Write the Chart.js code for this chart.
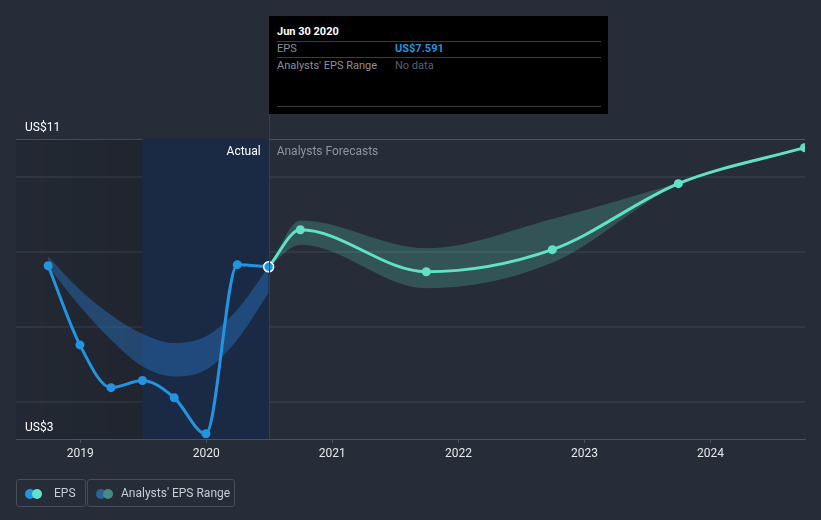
<!DOCTYPE html>
<html>
<head>
<meta charset="utf-8">
<script src="https://cdn.jsdelivr.net/npm/chart.js@4/dist/chart.umd.min.js"></script>
<style>
    body { margin: 0; background: #262c38; font-family: Roboto, "Noto Sans", sans-serif; }
    #wrap { position: relative; width: 821px; height: 520px; overflow: hidden; }
    #chart { position: absolute; left: 0; top: 0; }
    .tip { position: absolute; left: 269px; top: 16px; width: 339px; height: 98px; background: #000; font-size: 11px; }
    .tip .title { position: absolute; left: 8px; top: 9px; color: #fff; font-weight: bold; font-size: 11px; }
    .tip .rule { position: absolute; left: 8px; width: 324px; height: 1px; background: #3d3d3d; }
    .tip .lab { position: absolute; left: 8px; color: #8c9099; }
    .tip .val { position: absolute; left: 126px; }
    .legend { position: absolute; top: 479px; height: 28px; border: 1px solid #474d59; border-radius: 3px; box-sizing: border-box; color: #c9cdd4; font-size: 12px; line-height: 26px; }
    .dots { position: absolute; top: 9px; left: 8px; width: 20px; height: 10px; }
    .dots span { position: absolute; top: 0; width: 10px; height: 10px; border-radius: 50%; }
</style>
</head>
<body>
<div id="wrap">
    <canvas id="chart" width="821" height="520"></canvas>
    <div class="tip">
        <div class="title">Jun 30 2020</div>
        <div class="rule" style="top:25px"></div>
        <div class="lab" style="top:26px">EPS</div>
        <div class="val" style="top:26px;color:#2394df;font-weight:bold">US$7.591</div>
        <div class="rule" style="top:41px"></div>
        <div class="lab" style="top:43px">Analysts' EPS Range</div>
        <div class="val" style="top:43px;color:#5b6069">No data</div>
        <div class="rule" style="top:90px"></div>
    </div>
    <div class="legend" style="left:16px;width:70px">
        <div class="dots"><span style="left:0;background:#2394df"></span><span style="left:7px;background:#61e2c8"></span></div>
        <span style="position:absolute;left:37px">EPS</span>
    </div>
    <div class="legend" style="left:87px;width:148px">
        <div class="dots"><span style="left:0;background:#2a6395"></span><span style="left:7px;background:#468b86"></span></div>
        <span style="position:absolute;left:33px">Analysts' EPS Range</span>
    </div>
</div>
<script>
// reported EPS (quarterly, trailing)
const actualDates = ['2018-09-30', '2018-12-31', '2019-03-31', '2019-06-30', '2019-09-30', '2019-12-31', '2020-03-31', '2020-06-30'];
const actualEps = [7.62, 5.51, 4.37, 4.56, 4.10, 3.14, 7.65, 7.591];
// past analysts' range
const pastRangeHigh = [7.87, 6.98, 6.31, 5.81, 5.56, 5.74, 6.45, 7.60];
const pastRangeLow = [7.60, 6.54, 5.65, 4.94, 4.67, 4.85, 5.65, 6.90];

// analysts forecasts
const forecastDates = ['2020-06-30', '2020-09-30', '2021-09-30', '2022-09-30', '2023-09-30', '2024-09-30'];
const forecastEps = [7.591, 8.58, 7.46, 8.05, 9.81, 10.77];
const forecastHigh = [7.591, 8.83, 8.09, 8.87, 9.83, 10.78];
const forecastLow = [7.591, 8.18, 7.02, 7.70, 9.79, 10.76];

const yearTicks = [2019, 2020, 2021, 2022, 2023, 2024];
const yTicks = [3, 4, 6, 8, 10, 11];

// date string -> decimal year
function toYear(s) {
    const d = new Date(s + 'T00:00:00Z');
    const y = d.getUTCFullYear();
    const a = Date.UTC(y, 0, 1), b = Date.UTC(y + 1, 0, 1);
    return y + (d - a) / (b - a);
}
const pts = (dates, vals) => dates.map((d, i) => ({ x: toYear(d), y: vals[i] }));

const BLUE = '#2394df';
const TEAL = '#61e2c8';
const pastStart = toYear('2019-06-30');
const nowX = toYear('2020-06-30');

const bgPlugin = {
    id: 'bg',
    beforeDatasetsDraw(chart) {
        const { ctx, chartArea: a, scales: { x } } = chart;
        const x1 = x.getPixelForValue(pastStart);
        const x2 = x.getPixelForValue(nowX);
        ctx.save();
        const g = ctx.createLinearGradient(a.left, 0, x1, 0);
        g.addColorStop(0, 'rgba(0,0,0,0.06)');
        g.addColorStop(1, 'rgba(0,0,0,0.16)');
        ctx.fillStyle = g;
        ctx.fillRect(a.left, a.top, x1 - a.left, a.bottom - a.top);
        ctx.fillStyle = '#1a2a44';
        ctx.fillRect(x1, a.top, x2 - x1, a.bottom - a.top);
        ctx.restore();
    },
    afterDraw(chart) {
        const { ctx, chartArea: a, scales: { x } } = chart;
        const x2 = x.getPixelForValue(nowX);
        ctx.save();
        ctx.strokeStyle = '#26416a';
        ctx.lineWidth = 1;
        ctx.beginPath();
        ctx.moveTo(Math.round(x2) + 0.5, 114);
        ctx.lineTo(Math.round(x2) + 0.5, a.bottom);
        ctx.stroke();
        ctx.font = '12px Roboto';
        ctx.textBaseline = 'middle';
        ctx.fillStyle = '#ffffff';
        ctx.fillText('US$11', 25, 128);
        ctx.fillText('US$3', 25, 428);
        ctx.textAlign = 'right';
        ctx.fillText('Actual', x2 - 8, 152);
        ctx.textAlign = 'left';
        ctx.fillStyle = '#8f949c';
        ctx.fillText('Analysts Forecasts', x2 + 8, 152);
        ctx.restore();
    }
};

const band = (data, color, fill) => ({
    data, fill, backgroundColor: color, borderWidth: 0, pointRadius: 0,
    cubicInterpolationMode: 'monotone', order: 10
});

new Chart(document.getElementById('chart'), {
    type: 'line',
    data: {
        datasets: [
            band(pts(actualDates, pastRangeHigh), 'rgba(40,120,200,0.42)', '+1'),
            band(pts(actualDates, pastRangeLow), 'transparent', false),
            band(pts(forecastDates, forecastHigh), 'rgba(97,226,200,0.22)', '+1'),
            band(pts(forecastDates, forecastLow), 'transparent', false),
            {
                data: pts(forecastDates, forecastEps),
                borderColor: TEAL, backgroundColor: TEAL, borderWidth: 3,
                pointRadius: 4.5, pointBorderWidth: 0,
                cubicInterpolationMode: 'monotone', fill: false, order: 2
            },
            {
                data: pts(actualDates, actualEps),
                borderColor: BLUE, backgroundColor: BLUE, borderWidth: 3,
                pointRadius: actualEps.map((v, i) => i === actualEps.length - 1 ? 5 : 4.5),
                pointBorderWidth: actualEps.map((v, i) => i === actualEps.length - 1 ? 1.5 : 0),
                pointBorderColor: '#ffffff',
                cubicInterpolationMode: 'monotone', fill: false, order: 1
            }
        ]
    },
    options: {
        responsive: false,
        animation: false,
        layout: { padding: { left: 16, right: 16, top: 139, bottom: 51 } },
        plugins: { legend: { display: false }, tooltip: { enabled: false } },
        scales: {
            x: {
                type: 'linear',
                min: 2018.49,
                max: 2024.75,
                afterBuildTicks: s => { s.ticks = yearTicks.map(v => ({ value: v })); },
                afterFit: s => { s.height = 30; },
                ticks: { color: '#e6e8ec', font: { family: 'Roboto', size: 12 }, padding: 4, callback: v => String(v) },
                grid: { drawOnChartArea: false, drawTicks: true, tickLength: 4, color: '#4b515c' },
                border: { color: '#4b515c' }
            },
            y: {
                min: 3,
                max: 11,
                afterBuildTicks: s => { s.ticks = yTicks.map(v => ({ value: v })); },
                afterFit: s => { s.width = 0; },
                ticks: { display: false },
                grid: {
                    drawTicks: false,
                    color: c => c.tick.value === 11 ? '#4e5460' : (c.tick.value === 3 ? 'transparent' : '#323946'),
                    lineWidth: c => c.tick.value === 11 ? 1 : 2
                },
                border: { display: false }
            }
        }
    },
    plugins: [bgPlugin]
});
</script>
</body>
</html>
